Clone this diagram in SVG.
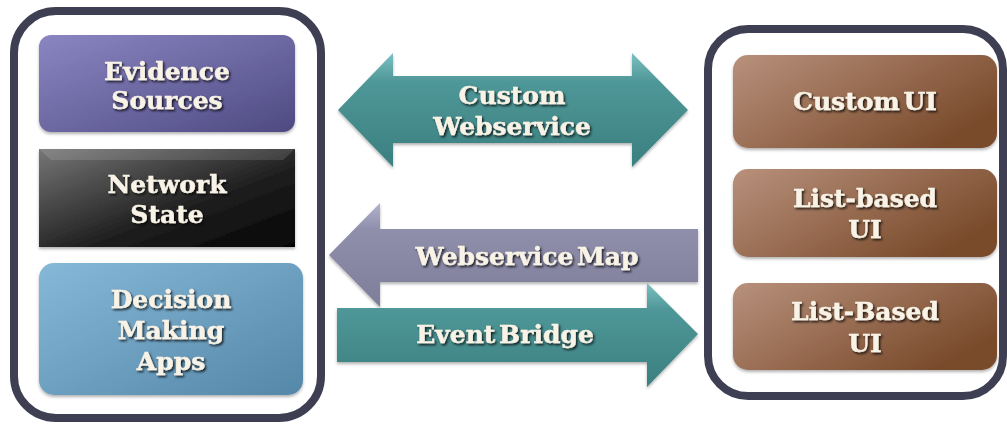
<svg xmlns="http://www.w3.org/2000/svg" width="1007" height="427" viewBox="0 0 1007 427">
<defs>
<linearGradient id="gPurple" x1="0" y1="0" x2="1" y2="1"><stop offset="0" stop-color="#8a86c2"/><stop offset="1" stop-color="#4f4a82"/></linearGradient>
<linearGradient id="gBlack" x1="0" y1="0" x2="1" y2="1"><stop offset="0" stop-color="#767676"/><stop offset="0.6" stop-color="#1e1e1e"/><stop offset="1" stop-color="#050505"/></linearGradient>
<linearGradient id="gBlue" x1="0" y1="0" x2="1" y2="1"><stop offset="0" stop-color="#86b9d8"/><stop offset="1" stop-color="#5587a8"/></linearGradient>
<linearGradient id="gBrown" x1="0" y1="0" x2="1" y2="0.6"><stop offset="0" stop-color="#b8917c"/><stop offset="1" stop-color="#7a4b2c"/></linearGradient>
<linearGradient id="gTeal" x1="0" y1="0" x2="0" y2="1"><stop offset="0" stop-color="#7cc0c2"/><stop offset="0.25" stop-color="#4f9798"/><stop offset="1" stop-color="#3b7f80"/></linearGradient>
<linearGradient id="gLav" x1="0" y1="0" x2="0" y2="1"><stop offset="0" stop-color="#b3b3cf"/><stop offset="0.25" stop-color="#8f8fab"/><stop offset="1" stop-color="#7e7e9b"/></linearGradient>
<filter id="ts" x="-10%" y="-30%" width="120%" height="160%"><feDropShadow dx="1.5" dy="1.8" stdDeviation="1" flood-color="#000" flood-opacity="0.8"/></filter>
<filter id="bs" x="-5%" y="-5%" width="110%" height="115%"><feDropShadow dx="0" dy="2" stdDeviation="1.5" flood-color="#000" flood-opacity="0.3"/></filter>
</defs>
<style>
.lbl{font-family:"DejaVu Serif","Liberation Serif",serif;font-weight:bold;font-size:25px;fill:#f8f3e6;stroke:#f8f3e6;stroke-width:0.4;text-anchor:middle;word-spacing:-5px;filter:url(#ts)}
.cont{fill:#fff;stroke:#3f3f54;stroke-width:8}
</style>
<rect width="1007" height="427" fill="#fff"/>
<g id="left-container"><rect class="cont" x="14" y="11" width="307" height="407" rx="42"/></g>
<g id="right-container"><rect class="cont" x="708" y="29" width="295" height="367" rx="40"/></g>

<g id="evidence-sources"><rect x="39" y="35" width="256" height="97" rx="12" fill="url(#gPurple)" filter="url(#bs)"/>
<text class="lbl" x="167" y="80">Evidence</text><text class="lbl" x="167" y="109">Sources</text></g>
<g id="network-state"><rect x="39" y="149" width="256" height="98" fill="url(#gBlack)" filter="url(#bs)"/>
<path d="M39 149 L295 149 L283 160 L51 160 Z" fill="#fff" opacity="0.12"/>
<text class="lbl" x="167" y="193">Network</text><text class="lbl" x="167" y="223">State</text></g>
<g id="decision-making-apps"><rect x="39" y="263" width="264" height="132" rx="15" fill="url(#gBlue)" filter="url(#bs)"/>
<text class="lbl" x="171" y="308">Decision</text><text class="lbl" x="171" y="339">Making</text><text class="lbl" x="171" y="370">Apps</text></g>

<g id="custom-ui"><rect x="733" y="55" width="264" height="93" rx="15" fill="url(#gBrown)" filter="url(#bs)"/>
<text class="lbl" x="865" y="110">Custom UI</text></g>
<g id="list-based-ui"><rect x="733" y="169" width="264" height="88" rx="15" fill="url(#gBrown)" filter="url(#bs)"/>
<text class="lbl" x="865" y="207">List-based</text><text class="lbl" x="865" y="238">UI</text></g>
<g id="list-based-ui-2"><rect x="733" y="283" width="264" height="87" rx="15" fill="url(#gBrown)" filter="url(#bs)"/>
<text class="lbl" x="865" y="320">List-Based</text><text class="lbl" x="865" y="352">UI</text></g>

<g id="connectors">
<g id="custom-webservice"><path d="M338 110 L393 53 L393 76 L632 76 L632 53 L688 110 L632 167 L632 143 L393 143 L393 167 Z" fill="url(#gTeal)" filter="url(#bs)"/>
<text class="lbl" x="512" y="104">Custom</text><text class="lbl" x="512" y="135">Webservice</text></g>
<g id="webservice-map"><path d="M329 255 L380 203 L380 229 L698 229 L698 282 L380 282 L380 307 Z" fill="url(#gLav)" filter="url(#bs)"/>
<text class="lbl" x="527" y="265">Webservice Map</text></g>
<g id="event-bridge"><path d="M337 308 L647 308 L647 283 L698 334 L647 387 L647 362 L337 362 Z" fill="url(#gTeal)" filter="url(#bs)"/>
<text class="lbl" x="505" y="343">Event Bridge</text></g>
</g>
</svg>
